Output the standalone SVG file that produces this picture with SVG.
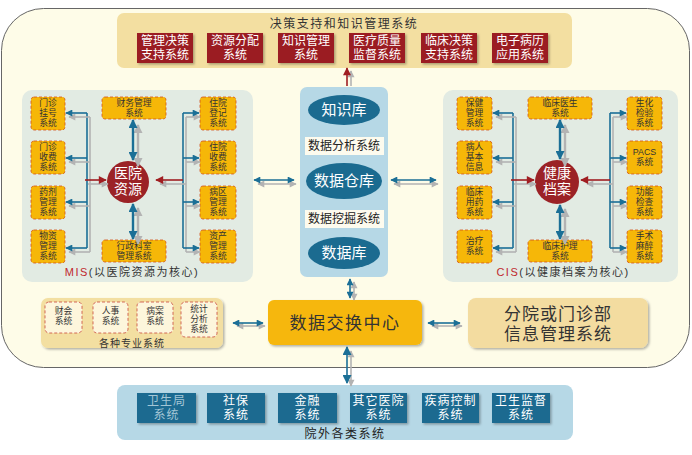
<svg xmlns="http://www.w3.org/2000/svg" width="692" height="455" viewBox="0 0 692 455">
<defs>
<style>
text{font-family:"Liberation Sans","Noto Sans CJK SC",sans-serif;text-anchor:middle;}
.red{fill:#9b1d20;}
.rt{fill:#fff;font-size:12px;}
.yb{fill:#f6b708;stroke:#d2521c;stroke-width:0.8;stroke-dasharray:3 2;}
.yt{fill:#333;font-size:8.8px;}
.cb{fill:#fdf6dc;stroke:#c8483a;stroke-width:0.8;stroke-dasharray:3 2;}
.bb{fill:#1b6b90;}
.bt{fill:#fff;font-size:12px;letter-spacing:1px;}
.ell{fill:#1b6b90;}
.et{fill:#fff;font-size:15px;}
.bl{stroke:#1b6f96;stroke-width:1.6;fill:none;}
.blt{stroke:#1b6f96;stroke-width:2.4;fill:none;}
.gr{stroke:#b3b3b3;stroke-width:1.6;fill:none;}
.grt{stroke:#b3b3b3;stroke-width:2.4;fill:none;}
.rd{stroke:#a01e22;stroke-width:1.6;fill:none;}
</style>
<marker id="mb" viewBox="0 0 10 10" refX="9" refY="5" markerWidth="8" markerHeight="7" markerUnits="userSpaceOnUse" orient="auto-start-reverse"><path d="M0,0 L10,5 L0,10 z" fill="#1b6f96"/></marker>
<marker id="mg" viewBox="0 0 10 10" refX="9" refY="5" markerWidth="8" markerHeight="7" markerUnits="userSpaceOnUse" orient="auto-start-reverse"><path d="M0,0 L10,5 L0,10 z" fill="#b3b3b3"/></marker>
<marker id="mr" viewBox="0 0 10 10" refX="9" refY="5" markerWidth="9" markerHeight="8" markerUnits="userSpaceOnUse" orient="auto-start-reverse"><path d="M0,0 L10,5 L0,10 z" fill="#a01e22"/></marker>
<marker id="mbt" viewBox="0 0 10 10" refX="9" refY="5" markerWidth="10" markerHeight="9" markerUnits="userSpaceOnUse" orient="auto-start-reverse"><path d="M0,0 L10,5 L0,10 z" fill="#1b6f96"/></marker>
<marker id="mgt" viewBox="0 0 10 10" refX="9" refY="5" markerWidth="10" markerHeight="9" markerUnits="userSpaceOnUse" orient="auto-start-reverse"><path d="M0,0 L10,5 L0,10 z" fill="#b3b3b3"/></marker>
<filter id="sh" x="-10%" y="-10%" width="130%" height="140%"><feDropShadow dx="1.5" dy="1.5" stdDeviation="1" flood-color="#000" flood-opacity="0.3"/></filter>
</defs>

<rect width="692" height="455" fill="#fff"/>
<rect id="frame" x="1.5" y="8.5" width="688" height="359" rx="42" ry="42" fill="#fefce8" stroke="#666" stroke-width="1"/>

<!-- top panel -->
<g id="decision">
<rect x="117" y="13" width="455" height="55" rx="7" fill="#f3dfa1"/>
<text x="344" y="28" font-size="12" fill="#333" letter-spacing="1.5">决策支持和知识管理系统</text>
<g id="d1"><rect class="red" x="137" y="33" width="56" height="30" filter="url(#sh)"/><text class="rt"><tspan x="165" y="45">管理决策</tspan><tspan x="165" y="59">支持系统</tspan></text></g>
<g id="d2"><rect class="red" x="207" y="33" width="56" height="30" filter="url(#sh)"/><text class="rt"><tspan x="235" y="45">资源分配</tspan><tspan x="235" y="59">系统</tspan></text></g>
<g id="d3"><rect class="red" x="278" y="33" width="56" height="30" filter="url(#sh)"/><text class="rt"><tspan x="306" y="45">知识管理</tspan><tspan x="306" y="59">系统</tspan></text></g>
<g id="d4"><rect class="red" x="349" y="33" width="56" height="30" filter="url(#sh)"/><text class="rt"><tspan x="377" y="45">医疗质量</tspan><tspan x="377" y="59">监督系统</tspan></text></g>
<g id="d5"><rect class="red" x="421" y="33" width="56" height="30" filter="url(#sh)"/><text class="rt"><tspan x="449" y="45">临床决策</tspan><tspan x="449" y="59">支持系统</tspan></text></g>
<g id="d6"><rect class="red" x="492" y="33" width="56" height="30" filter="url(#sh)"/><text class="rt"><tspan x="520" y="45">电子病历</tspan><tspan x="520" y="59">应用系统</tspan></text></g>
</g>

<!-- MIS panel -->
<g id="mis">
<rect x="22" y="90" width="231" height="192" rx="10" fill="#e2ebe3"/>
<g id="m1"><rect class="yb" x="31" y="97" width="34" height="33" rx="3"/><text class="yt"><tspan x="48" y="106">门诊</tspan><tspan x="48" y="116.2">挂号</tspan><tspan x="48" y="126.4">系统</tspan></text></g>
<g id="m2"><rect class="yb" x="31" y="141" width="34" height="33" rx="3"/><text class="yt"><tspan x="48" y="150">门诊</tspan><tspan x="48" y="160.2">收费</tspan><tspan x="48" y="170.4">系统</tspan></text></g>
<g id="m3"><rect class="yb" x="31" y="186" width="34" height="33" rx="3"/><text class="yt"><tspan x="48" y="195">药剂</tspan><tspan x="48" y="205.2">管理</tspan><tspan x="48" y="215.4">系统</tspan></text></g>
<g id="m4"><rect class="yb" x="31" y="230" width="34" height="33" rx="3"/><text class="yt"><tspan x="48" y="239">物资</tspan><tspan x="48" y="249.2">管理</tspan><tspan x="48" y="259.4">系统</tspan></text></g>
<g id="m5"><rect class="yb" x="200" y="97" width="36" height="33" rx="3"/><text class="yt"><tspan x="218" y="106">住院</tspan><tspan x="218" y="116.2">登记</tspan><tspan x="218" y="126.4">系统</tspan></text></g>
<g id="m6"><rect class="yb" x="200" y="141" width="36" height="33" rx="3"/><text class="yt"><tspan x="218" y="150">住院</tspan><tspan x="218" y="160.2">收费</tspan><tspan x="218" y="170.4">系统</tspan></text></g>
<g id="m7"><rect class="yb" x="200" y="186" width="36" height="33" rx="3"/><text class="yt"><tspan x="218" y="195">病区</tspan><tspan x="218" y="205.2">管理</tspan><tspan x="218" y="215.4">系统</tspan></text></g>
<g id="m8"><rect class="yb" x="200" y="230" width="36" height="33" rx="3"/><text class="yt"><tspan x="218" y="239">资产</tspan><tspan x="218" y="249.2">管理</tspan><tspan x="218" y="259.4">系统</tspan></text></g>
<g id="m9"><rect class="yb" x="102" y="97" width="64" height="22" rx="3"/><text class="yt"><tspan x="134" y="106">财务管理</tspan><tspan x="134" y="116.2">系统</tspan></text></g>
<g id="m10"><rect class="yb" x="102" y="240" width="64" height="22" rx="3"/><text class="yt"><tspan x="134" y="249">行政科室</tspan><tspan x="134" y="259.2">管理系统</tspan></text></g>
<g id="mc"><circle cx="128" cy="182" r="21" fill="#9b2226"/><text font-size="14" fill="#fff"><tspan x="128" y="178">医院</tspan><tspan x="128" y="194">资源</tspan></text></g>
<text x="132" y="276" font-size="11" fill="#333" letter-spacing="1.5"><tspan fill="#c0282d">MIS</tspan>(以医院资源为核心)</text>
</g>

<!-- CIS panel -->
<g id="cis">
<rect x="443" y="90" width="235" height="192" rx="10" fill="#e2ebe3"/>
<g id="c1"><rect class="yb" x="457" y="97" width="35" height="33" rx="3"/><text class="yt"><tspan x="474.5" y="106">保健</tspan><tspan x="474.5" y="116.2">管理</tspan><tspan x="474.5" y="126.4">系统</tspan></text></g>
<g id="c2"><rect class="yb" x="457" y="141" width="35" height="33" rx="3"/><text class="yt"><tspan x="474.5" y="150">病人</tspan><tspan x="474.5" y="160.2">基本</tspan><tspan x="474.5" y="170.4">信息</tspan></text></g>
<g id="c3"><rect class="yb" x="457" y="186" width="35" height="33" rx="3"/><text class="yt"><tspan x="474.5" y="195">临床</tspan><tspan x="474.5" y="205.2">用药</tspan><tspan x="474.5" y="215.4">系统</tspan></text></g>
<g id="c4"><rect class="yb" x="457" y="230" width="35" height="33" rx="3"/><text class="yt"><tspan x="474.5" y="244">治疗</tspan><tspan x="474.5" y="254.2">系统</tspan></text></g>
<g id="c5"><rect class="yb" x="627" y="97" width="35" height="33" rx="3"/><text class="yt"><tspan x="644.5" y="106">生化</tspan><tspan x="644.5" y="116.2">检验</tspan><tspan x="644.5" y="126.4">系统</tspan></text></g>
<g id="c6"><rect class="yb" x="627" y="141" width="35" height="33" rx="3"/><text class="yt"><tspan x="644.5" y="155">PACS</tspan><tspan x="644.5" y="165.2">系统</tspan></text></g>
<g id="c7"><rect class="yb" x="627" y="186" width="35" height="33" rx="3"/><text class="yt"><tspan x="644.5" y="195">功能</tspan><tspan x="644.5" y="205.2">检查</tspan><tspan x="644.5" y="215.4">系统</tspan></text></g>
<g id="c8"><rect class="yb" x="627" y="230" width="35" height="33" rx="3"/><text class="yt"><tspan x="644.5" y="239">手术</tspan><tspan x="644.5" y="249.2">麻醉</tspan><tspan x="644.5" y="259.4">系统</tspan></text></g>
<g id="c9"><rect class="yb" x="528" y="97" width="64" height="22" rx="3"/><text class="yt"><tspan x="560" y="106">临床医生</tspan><tspan x="560" y="116.2">系统</tspan></text></g>
<g id="c10"><rect class="yb" x="528" y="240" width="64" height="22" rx="3"/><text class="yt"><tspan x="560" y="249">临床护理</tspan><tspan x="560" y="259.2">系统</tspan></text></g>
<g id="cc"><circle cx="557" cy="182" r="22" fill="#9b2226"/><text font-size="14" fill="#fff"><tspan x="557" y="178">健康</tspan><tspan x="557" y="194">档案</tspan></text></g>
<text x="563" y="276" font-size="11" fill="#333" letter-spacing="1.5"><tspan fill="#c0282d">CIS</tspan>(以健康档案为核心)</text>
</g>

<!-- center column -->
<g id="center">
<rect x="300" y="87" width="88" height="190" rx="7" fill="#b6d8e6"/>
<g id="kb"><ellipse class="ell" cx="344" cy="110" rx="36" ry="15"/><text class="et" x="344" y="115">知识库</text></g>
<g id="an"><rect x="305" y="137" width="79" height="18" fill="#fdfbee"/><text x="344" y="150" font-size="12" fill="#222">数据分析系统</text></g>
<g id="dw"><ellipse class="ell" cx="344" cy="181" rx="38" ry="18"/><text class="et" x="344" y="186">数据仓库</text></g>
<g id="dm"><rect x="305" y="210" width="79" height="18" fill="#fdfbee"/><text x="344" y="223" font-size="12" fill="#222">数据挖掘系统</text></g>
<g id="db"><ellipse class="ell" cx="344" cy="253" rx="36" ry="16"/><text class="et" x="344" y="258">数据库</text></g>
</g>

<!-- lower section -->
<g id="prof">
<rect x="41" y="298" width="182" height="50" rx="7" fill="#f3dfa1" filter="url(#sh)"/>
<g id="p1"><rect class="cb" x="45" y="302" width="37" height="31" rx="4"/><text class="yt"><tspan x="63.5" y="314">财会</tspan><tspan x="63.5" y="324.2">系统</tspan></text></g>
<g id="p2"><rect class="cb" x="93" y="302" width="35" height="31" rx="4"/><text class="yt"><tspan x="110.5" y="314">人事</tspan><tspan x="110.5" y="324.2">系统</tspan></text></g>
<g id="p3"><rect class="cb" x="137" y="302" width="36" height="31" rx="4"/><text class="yt"><tspan x="155" y="314">病案</tspan><tspan x="155" y="324.2">系统</tspan></text></g>
<g id="p4"><rect class="cb" x="181" y="302" width="36" height="35" rx="4"/><text class="yt"><tspan x="199" y="312">统计</tspan><tspan x="199" y="322.2">分析</tspan><tspan x="199" y="332.4">系统</tspan></text></g>
<text x="132" y="346.5" font-size="10" fill="#333" letter-spacing="1">各种专业系统</text>
</g>
<g id="exchange"><rect x="268" y="300" width="154" height="45" rx="6" fill="#f6b708" filter="url(#sh)"/><text x="345" y="329" font-size="17" fill="#333" letter-spacing="1.5">数据交换中心</text></g>
<g id="branch"><rect x="468" y="298" width="180" height="50" rx="8" fill="#f3dca0" filter="url(#sh)"/><text font-size="17" fill="#333" letter-spacing="1"><tspan x="558" y="320">分院或门诊部</tspan><tspan x="558" y="340">信息管理系统</tspan></text></g>

<!-- external -->
<g id="external">
<rect x="117" y="385" width="456" height="55" rx="8" fill="#b6d8e6"/>
<g id="e1"><rect class="bb" x="137" y="393" width="59" height="30" filter="url(#sh)"/><text class="bt" style="fill:#a3c6d6"><tspan x="166.5" y="405">卫生局</tspan><tspan x="166.5" y="419">系统</tspan></text></g>
<g id="e2"><rect class="bb" x="207" y="393" width="58" height="30" filter="url(#sh)"/><text class="bt"><tspan x="236" y="405">社保</tspan><tspan x="236" y="419">系统</tspan></text></g>
<g id="e3"><rect class="bb" x="278" y="393" width="59" height="30" filter="url(#sh)"/><text class="bt"><tspan x="307.5" y="405">金融</tspan><tspan x="307.5" y="419">系统</tspan></text></g>
<g id="e4"><rect class="bb" x="350" y="393" width="57" height="30" filter="url(#sh)"/><text class="bt"><tspan x="378.5" y="405">其它医院</tspan><tspan x="378.5" y="419">系统</tspan></text></g>
<g id="e5"><rect class="bb" x="422" y="393" width="57" height="30" filter="url(#sh)"/><text class="bt"><tspan x="450.5" y="405">疾病控制</tspan><tspan x="450.5" y="419">系统</tspan></text></g>
<g id="e6"><rect class="bb" x="492" y="393" width="58" height="30" filter="url(#sh)"/><text class="bt"><tspan x="521" y="405">卫生监督</tspan><tspan x="521" y="419">系统</tspan></text></g>
<text x="345" y="437.5" font-size="12" fill="#222" letter-spacing="1.5">院外各类系统</text>
</g>

<!-- connectors -->
<g id="connectors">
<line class="gr" x1="351" y1="86" x2="351" y2="71" marker-end="url(#mg)"/>
<line class="rd" x1="347" y1="86" x2="347" y2="68" stroke-width="2" marker-end="url(#mr)"/>
<line class="gr" x1="258" y1="184" x2="296" y2="184" marker-start="url(#mg)" marker-end="url(#mg)"/>
<line class="bl" x1="254" y1="180" x2="294" y2="180" marker-start="url(#mb)" marker-end="url(#mb)"/>
<line class="gr" x1="394" y1="184" x2="438" y2="184" marker-start="url(#mg)" marker-end="url(#mg)"/>
<line class="bl" x1="391" y1="180" x2="436" y2="180" marker-start="url(#mb)" marker-end="url(#mb)"/>

<line class="gr" x1="90" y1="117" x2="90" y2="252"/>
<line class="bl" x1="87" y1="113" x2="87" y2="248"/>
<line class="gr" x1="90" y1="117" x2="69" y2="117" marker-end="url(#mg)"/>
<line class="bl" x1="87" y1="113" x2="66" y2="113" marker-end="url(#mb)"/>
<line class="gr" x1="90" y1="162" x2="69" y2="162" marker-end="url(#mg)"/>
<line class="bl" x1="87" y1="158" x2="66" y2="158" marker-end="url(#mb)"/>
<line class="gr" x1="90" y1="206" x2="69" y2="206" marker-end="url(#mg)"/>
<line class="bl" x1="87" y1="202" x2="66" y2="202" marker-end="url(#mb)"/>
<line class="gr" x1="90" y1="252" x2="69" y2="252" marker-end="url(#mg)"/>
<line class="bl" x1="87" y1="248" x2="66" y2="248" marker-end="url(#mb)"/>
<line class="gr" x1="88" y1="184" x2="108" y2="184" marker-end="url(#mg)"/>
<line class="rd" x1="85" y1="180" x2="106" y2="180" marker-end="url(#mr)"/>
<line class="gr" x1="186" y1="117" x2="186" y2="252"/>
<line class="bl" x1="183" y1="113" x2="183" y2="248"/>
<line class="gr" x1="186" y1="117" x2="200" y2="117" marker-end="url(#mg)"/>
<line class="bl" x1="183" y1="113" x2="199" y2="113" marker-end="url(#mb)"/>
<line class="gr" x1="186" y1="162" x2="200" y2="162" marker-end="url(#mg)"/>
<line class="bl" x1="183" y1="158" x2="199" y2="158" marker-end="url(#mb)"/>
<line class="gr" x1="186" y1="206" x2="200" y2="206" marker-end="url(#mg)"/>
<line class="bl" x1="183" y1="202" x2="199" y2="202" marker-end="url(#mb)"/>
<line class="gr" x1="186" y1="252" x2="200" y2="252" marker-end="url(#mg)"/>
<line class="bl" x1="183" y1="248" x2="199" y2="248" marker-end="url(#mb)"/>
<line class="gr" x1="186" y1="184" x2="160" y2="184" marker-end="url(#mg)"/>
<line class="rd" x1="183" y1="180" x2="156" y2="180" marker-end="url(#mr)"/>
<line class="grt" x1="138" y1="125" x2="138" y2="166" marker-start="url(#mgt)" marker-end="url(#mgt)"/>
<line class="blt" x1="133" y1="120" x2="133" y2="160" marker-start="url(#mbt)" marker-end="url(#mbt)"/>
<line class="grt" x1="138" y1="208" x2="138" y2="244" marker-start="url(#mgt)" marker-end="url(#mgt)"/>
<line class="blt" x1="133" y1="204" x2="133" y2="239" marker-start="url(#mbt)" marker-end="url(#mbt)"/>

<line class="gr" x1="516" y1="117" x2="516" y2="252"/>
<line class="bl" x1="513" y1="113" x2="513" y2="248"/>
<line class="gr" x1="516" y1="117" x2="496" y2="117" marker-end="url(#mg)"/>
<line class="bl" x1="513" y1="113" x2="493" y2="113" marker-end="url(#mb)"/>
<line class="gr" x1="516" y1="162" x2="496" y2="162" marker-end="url(#mg)"/>
<line class="bl" x1="513" y1="158" x2="493" y2="158" marker-end="url(#mb)"/>
<line class="gr" x1="516" y1="206" x2="496" y2="206" marker-end="url(#mg)"/>
<line class="bl" x1="513" y1="202" x2="493" y2="202" marker-end="url(#mb)"/>
<line class="gr" x1="516" y1="252" x2="496" y2="252" marker-end="url(#mg)"/>
<line class="bl" x1="513" y1="248" x2="493" y2="248" marker-end="url(#mb)"/>
<line class="gr" x1="514" y1="184" x2="536" y2="184" marker-end="url(#mg)"/>
<line class="rd" x1="511" y1="180" x2="534" y2="180" marker-end="url(#mr)"/>
<line class="gr" x1="613" y1="117" x2="613" y2="252"/>
<line class="bl" x1="610" y1="113" x2="610" y2="248"/>
<line class="gr" x1="613" y1="117" x2="627" y2="117" marker-end="url(#mg)"/>
<line class="bl" x1="610" y1="113" x2="626" y2="113" marker-end="url(#mb)"/>
<line class="gr" x1="613" y1="162" x2="627" y2="162" marker-end="url(#mg)"/>
<line class="bl" x1="610" y1="158" x2="626" y2="158" marker-end="url(#mb)"/>
<line class="gr" x1="613" y1="206" x2="627" y2="206" marker-end="url(#mg)"/>
<line class="bl" x1="610" y1="202" x2="626" y2="202" marker-end="url(#mb)"/>
<line class="gr" x1="613" y1="252" x2="627" y2="252" marker-end="url(#mg)"/>
<line class="bl" x1="610" y1="248" x2="626" y2="248" marker-end="url(#mb)"/>
<line class="gr" x1="613" y1="184" x2="587" y2="184" marker-end="url(#mg)"/>
<line class="rd" x1="610" y1="180" x2="581" y2="180" marker-end="url(#mr)"/>
<line class="grt" x1="565" y1="125" x2="565" y2="166" marker-start="url(#mgt)" marker-end="url(#mgt)"/>
<line class="blt" x1="560" y1="120" x2="560" y2="159" marker-start="url(#mbt)" marker-end="url(#mbt)"/>
<line class="grt" x1="565" y1="209" x2="565" y2="244" marker-start="url(#mgt)" marker-end="url(#mgt)"/>
<line class="blt" x1="560" y1="205" x2="560" y2="239" marker-start="url(#mbt)" marker-end="url(#mbt)"/>

<line class="gr" x1="354" y1="282" x2="354" y2="300" marker-start="url(#mg)" marker-end="url(#mg)"/>
<line class="bl" x1="350" y1="279" x2="350" y2="298" marker-start="url(#mb)" marker-end="url(#mb)"/>
<line class="gr" x1="351" y1="351" x2="351" y2="386" marker-start="url(#mg)" marker-end="url(#mg)"/>
<line class="bl" x1="347" y1="347" x2="347" y2="383" stroke-width="2" marker-start="url(#mbt)" marker-end="url(#mbt)"/>
<line class="gr" x1="237" y1="326" x2="265" y2="326" marker-start="url(#mg)" marker-end="url(#mg)"/>
<line class="bl" x1="233" y1="323" x2="263" y2="323" marker-start="url(#mb)" marker-end="url(#mb)"/>
<line class="gr" x1="432" y1="326" x2="462" y2="326" marker-start="url(#mg)" marker-end="url(#mg)"/>
<line class="bl" x1="428" y1="323" x2="460" y2="323" marker-start="url(#mb)" marker-end="url(#mb)"/>
</g>
</svg>
